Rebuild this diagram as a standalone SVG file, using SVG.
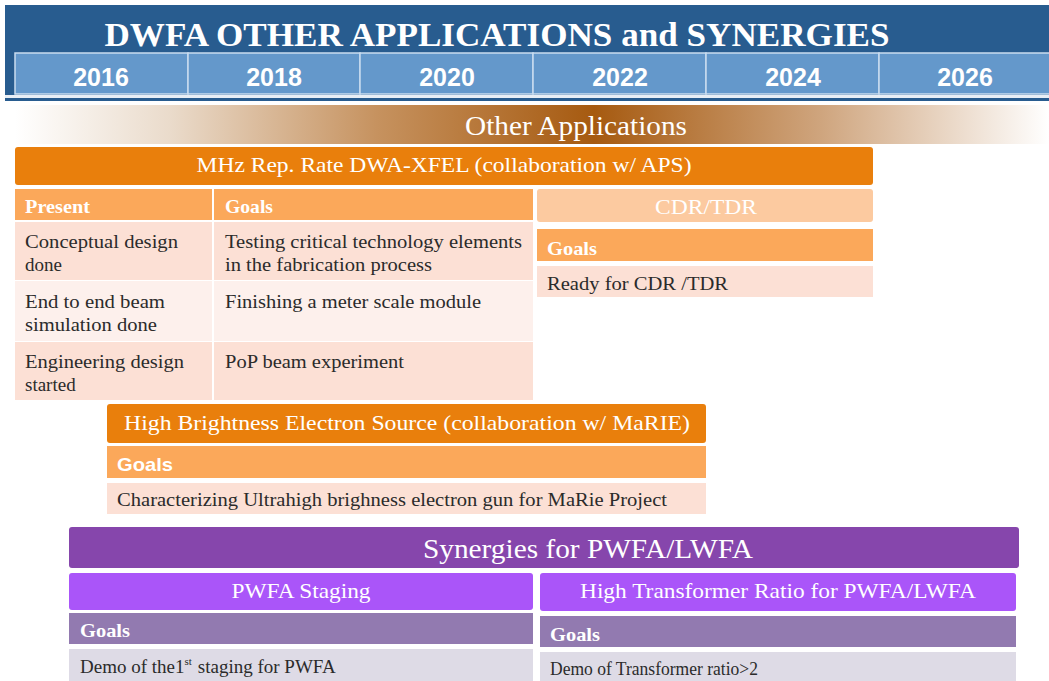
<svg xmlns="http://www.w3.org/2000/svg" width="1049" height="681" viewBox="0 0 1049 681">
<defs>
<linearGradient id="brown" x1="0" y1="0" x2="1" y2="0">
<stop offset="0" stop-color="#ffffff"/>
<stop offset="0.15" stop-color="#eadbcb"/>
<stop offset="0.35" stop-color="#c6925f"/>
<stop offset="0.56" stop-color="#a65a10"/>
<stop offset="0.78" stop-color="#cfa57e"/>
<stop offset="1" stop-color="#ffffff"/>
</linearGradient>
<style>
.serif{font-family:"Liberation Serif","Times New Roman",serif}
.sans{font-family:"Liberation Sans",Arial,sans-serif}
.w{fill:#ffffff}
.d{fill:#2b2b2b}
.yr{font-family:"Liberation Sans",Arial,sans-serif;font-weight:bold;font-size:25px;fill:#ffffff;text-anchor:middle}
.cell{fill:#6498cb;stroke:#c9dcef;stroke-width:1.5}
.orange{fill:#e97f0c}
.lo{fill:#fba85a}
.pk{fill:#fce0d5}
.pk2{fill:#fdf0ec}
.purple{fill:#8646ac}
.bp{fill:#aa55f9}
.mp{fill:#927ab0}
.lv{fill:#dedbe6}
.body{font-family:"Liberation Serif","Times New Roman",serif;font-size:19px;fill:#2b2b2b}
.hb{font-family:"Liberation Serif","Times New Roman",serif;font-size:19px;font-weight:bold;fill:#ffffff}
</style>
</defs>
<rect width="1049" height="681" fill="#ffffff"/>

<g id="header">
<rect x="5" y="5" width="1044" height="96" fill="#285c8f"/>
<text x="497" y="46" class="serif w" font-size="34" font-weight="bold" text-anchor="middle" textLength="785" lengthAdjust="spacingAndGlyphs">DWFA OTHER APPLICATIONS and SYNERGIES</text>
<rect x="5" y="95" width="1044" height="3" fill="#e8eef5"/>
</g>

<g id="years">
<rect class="cell" x="15" y="53" width="173" height="41"/>
<rect class="cell" x="188" y="53" width="172" height="41"/>
<rect class="cell" x="360" y="53" width="173" height="41"/>
<rect class="cell" x="533" y="53" width="173" height="41"/>
<rect class="cell" x="706" y="53" width="173" height="41"/>
<rect class="cell" x="879" y="53" width="172" height="41"/>
<text class="yr" x="101" y="86">2016</text>
<text class="yr" x="274" y="86">2018</text>
<text class="yr" x="447" y="86">2020</text>
<text class="yr" x="620" y="86">2022</text>
<text class="yr" x="793" y="86">2024</text>
<text class="yr" x="965" y="86">2026</text>
</g>

<g id="other-applications">
<rect x="15" y="105" width="1034" height="39" fill="url(#brown)"/>
<text x="576" y="135" class="serif w" font-size="27" text-anchor="middle" textLength="222" lengthAdjust="spacingAndGlyphs">Other Applications</text>
</g>

<g id="xfel">
<rect class="orange" x="15" y="147" width="858" height="38" rx="3"/>
<text x="444" y="172" class="serif w" font-size="22" text-anchor="middle" textLength="495" lengthAdjust="spacingAndGlyphs">MHz Rep. Rate DWA-XFEL (collaboration w/ APS)</text>
</g>

<g id="xfel-table">
<rect class="lo" x="15" y="189" width="197" height="31"/>
<rect class="lo" x="214" y="189" width="319" height="31"/>
<rect class="pk" x="15" y="222" width="197" height="58"/>
<rect class="pk" x="214" y="222" width="319" height="58"/>
<rect class="pk2" x="15" y="281" width="197" height="60"/>
<rect class="pk2" x="214" y="281" width="319" height="60"/>
<rect class="pk" x="15" y="342" width="197" height="58"/>
<rect class="pk" x="214" y="342" width="319" height="58"/>
<text class="hb" x="25" y="213" textLength="65" lengthAdjust="spacingAndGlyphs">Present</text>
<text class="hb" x="225" y="213" textLength="48" lengthAdjust="spacingAndGlyphs">Goals</text>
<text class="body" x="25" y="248" textLength="153" lengthAdjust="spacingAndGlyphs">Conceptual design</text>
<text class="body" x="25" y="271">done</text>
<text class="body" x="225" y="248" textLength="297" lengthAdjust="spacingAndGlyphs">Testing critical technology elements</text>
<text class="body" x="225" y="271" textLength="207" lengthAdjust="spacingAndGlyphs">in the fabrication process</text>
<text class="body" x="25" y="308" textLength="140" lengthAdjust="spacingAndGlyphs">End to end beam</text>
<text class="body" x="25" y="331" textLength="132" lengthAdjust="spacingAndGlyphs">simulation done</text>
<text class="body" x="225" y="308" textLength="256" lengthAdjust="spacingAndGlyphs">Finishing a meter scale module</text>
<text class="body" x="25" y="368" textLength="159" lengthAdjust="spacingAndGlyphs">Engineering design</text>
<text class="body" x="25" y="391">started</text>
<text class="body" x="225" y="368" textLength="179" lengthAdjust="spacingAndGlyphs">PoP beam experiment</text>
</g>

<g id="cdr-tdr">
<rect x="537" y="189" width="336" height="33" rx="3" fill="#fccaa0"/>
<text x="706" y="214" class="serif w" font-size="21" text-anchor="middle" textLength="102" lengthAdjust="spacingAndGlyphs">CDR/TDR</text>
<rect class="lo" x="537" y="229" width="336" height="32"/>
<text class="hb" x="547" y="255" textLength="50" lengthAdjust="spacingAndGlyphs">Goals</text>
<rect class="pk" x="537" y="266" width="336" height="31"/>
<text class="body" x="547" y="290" textLength="181" lengthAdjust="spacingAndGlyphs">Ready for CDR /TDR</text>
</g>

<g id="electron-source">
<rect class="orange" x="107" y="404" width="599" height="39" rx="3"/>
<text x="407" y="430" class="serif w" font-size="22" text-anchor="middle" textLength="566" lengthAdjust="spacingAndGlyphs">High Brightness Electron Source  (collaboration w/ MaRIE)</text>
<rect class="lo" x="107" y="446" width="599" height="32"/>
<text x="117" y="471" class="sans w" font-size="19" font-weight="bold" textLength="56" lengthAdjust="spacingAndGlyphs">Goals</text>
<rect class="pk" x="107" y="483" width="599" height="31"/>
<text class="body" x="117" y="506" textLength="550" lengthAdjust="spacingAndGlyphs">Characterizing Ultrahigh brighness electron gun for MaRie Project</text>
</g>

<g id="synergies">
<rect class="purple" x="69" y="527" width="950" height="41" rx="3"/>
<text x="588" y="558" class="serif w" font-size="27" text-anchor="middle" textLength="330" lengthAdjust="spacingAndGlyphs">Synergies for PWFA/LWFA</text>
</g>

<g id="pwfa-staging">
<rect class="bp" x="69" y="573" width="464" height="37" rx="3"/>
<text x="301" y="598" class="serif w" font-size="22" text-anchor="middle" textLength="139" lengthAdjust="spacingAndGlyphs">PWFA Staging</text>
<rect class="mp" x="69" y="613" width="464" height="31"/>
<text class="hb" x="80" y="637" textLength="50" lengthAdjust="spacingAndGlyphs">Goals</text>
<rect class="lv" x="69" y="649" width="464" height="32"/>
<text class="body" x="80" y="673">Demo of the1<tspan font-size="11" dy="-8">st</tspan><tspan dy="8" dx="6">staging for PWFA</tspan></text>
</g>

<g id="transformer-ratio">
<rect class="bp" x="540" y="573" width="476" height="38" rx="3"/>
<text x="778" y="598" class="serif w" font-size="22" text-anchor="middle" textLength="396" lengthAdjust="spacingAndGlyphs">High Transformer Ratio for PWFA/LWFA</text>
<rect class="mp" x="540" y="616" width="476" height="31"/>
<text class="hb" x="550" y="641" textLength="50" lengthAdjust="spacingAndGlyphs">Goals</text>
<rect class="lv" x="540" y="652" width="476" height="29"/>
<text class="body" x="550" y="675" textLength="208" lengthAdjust="spacingAndGlyphs">Demo of Transformer ratio&gt;2</text>
</g>

<g id="connectors"/>
</svg>
